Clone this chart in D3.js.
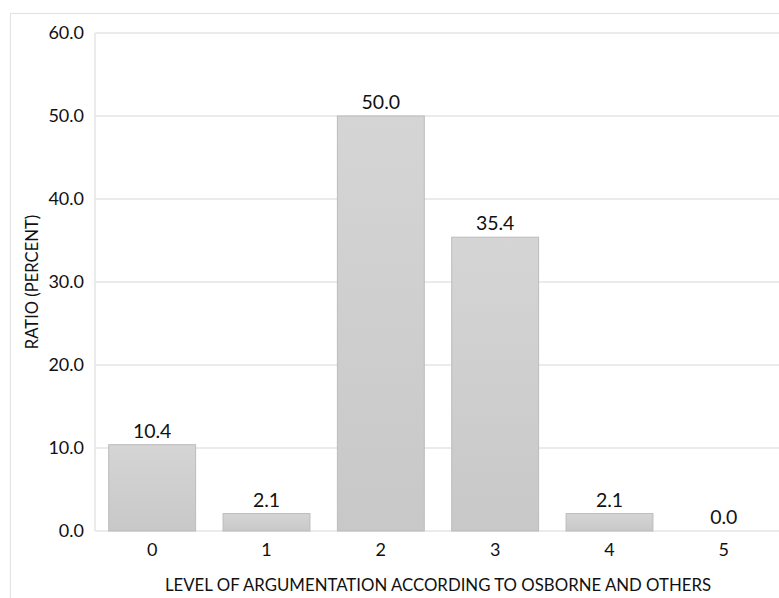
<!DOCTYPE html>
<html><head><meta charset="utf-8">
<script src="https://cdn.jsdelivr.net/npm/d3@7"></script>
<style>body{margin:0;background:#fff;} text{font-family:Lato,"Open Sans",sans-serif;fill:#111;}</style>
</head><body>
<svg id="c" width="779" height="598"></svg>
<script>
const categories = ["0","1","2","3","4","5"];
const values = [10.4, 2.1, 50.0, 35.4, 2.1, 0.0];
const yTicks = [0,10,20,30,40,50,60];
const xTitle = "LEVEL OF ARGUMENTATION ACCORDING TO OSBORNE AND OTHERS";
const yTitle = "RATIO (PERCENT)";

const svg = d3.select("#c");
const L = 95, R = 781, T = 33, B = 531;

// outer frame
svg.append("rect").attr("x",10.5).attr("y",13.5).attr("width",800).attr("height",700)
  .attr("fill","none").attr("stroke","#e3e3e3").attr("stroke-width",1.2);

const defs = svg.append("defs");
const g = defs.append("linearGradient").attr("id","bg").attr("x1",0).attr("y1",0).attr("x2",0).attr("y2",1);
g.append("stop").attr("offset","0%").attr("stop-color","#d5d5d5");
g.append("stop").attr("offset","100%").attr("stop-color","#c8c8c8");

const x = d3.scaleBand().domain(categories).range([L,R]).paddingInner(0.24).paddingOuter(0.12);
const y = d3.scaleLinear().domain([0,60]).range([B,T]);

// gridlines
svg.append("g").selectAll("line").data(yTicks).join("line")
  .attr("x1",L).attr("x2",R).attr("y1",d=>y(d)).attr("y2",d=>y(d))
  .attr("stroke","#e4e4e4").attr("stroke-width",1.5);
svg.append("line").attr("x1",L).attr("x2",L).attr("y1",T).attr("y2",B)
  .attr("stroke","#e4e4e4").attr("stroke-width",1.5);

const FONT = "Lato,'Open Sans',sans-serif";
// y tick labels
const yAxis = svg.append("g").attr("transform",`translate(${L},0)`)
  .call(d3.axisLeft(y).tickValues(yTicks).tickFormat(d3.format(".1f")).tickSize(0).tickPadding(11));
yAxis.select(".domain").remove();
yAxis.selectAll("text").style("font-size","18px").attr("fill","#111").style("font-family",FONT);

// x tick labels
const xAxis = svg.append("g").attr("transform",`translate(0,${B})`)
  .call(d3.axisBottom(x).tickSize(0).tickPadding(12));
xAxis.select(".domain").remove();
xAxis.selectAll("text").style("font-size","18px").attr("fill","#111").style("font-family",FONT);

// bars
svg.append("g").selectAll("rect").data(values).join("rect")
  .attr("x",(d,i)=>x(categories[i])).attr("width",x.bandwidth())
  .attr("y",d=>y(d)).attr("height",d=>B-y(d))
  .attr("fill","url(#bg)").attr("stroke","#bcbcbc").attr("stroke-width",1)
  .attr("display",d=>d>0?null:"none");

// value labels
svg.append("g").selectAll("text").data(values).join("text")
  .attr("x",(d,i)=>x(categories[i])+x.bandwidth()/2).attr("y",d=>y(d)-7)
  .attr("text-anchor","middle").style("font-size","19.5px")
  .text(d=>d3.format(".1f")(d));

// titles
svg.append("text").attr("x",438).attr("y",591).attr("text-anchor","middle")
  .style("font-size","16.8px").text(xTitle);
svg.append("text").attr("transform",`translate(38,${(T+B)/2}) rotate(-90)`).attr("text-anchor","middle")
  .style("font-size","16.6px").text(yTitle);
</script>
</body></html>
